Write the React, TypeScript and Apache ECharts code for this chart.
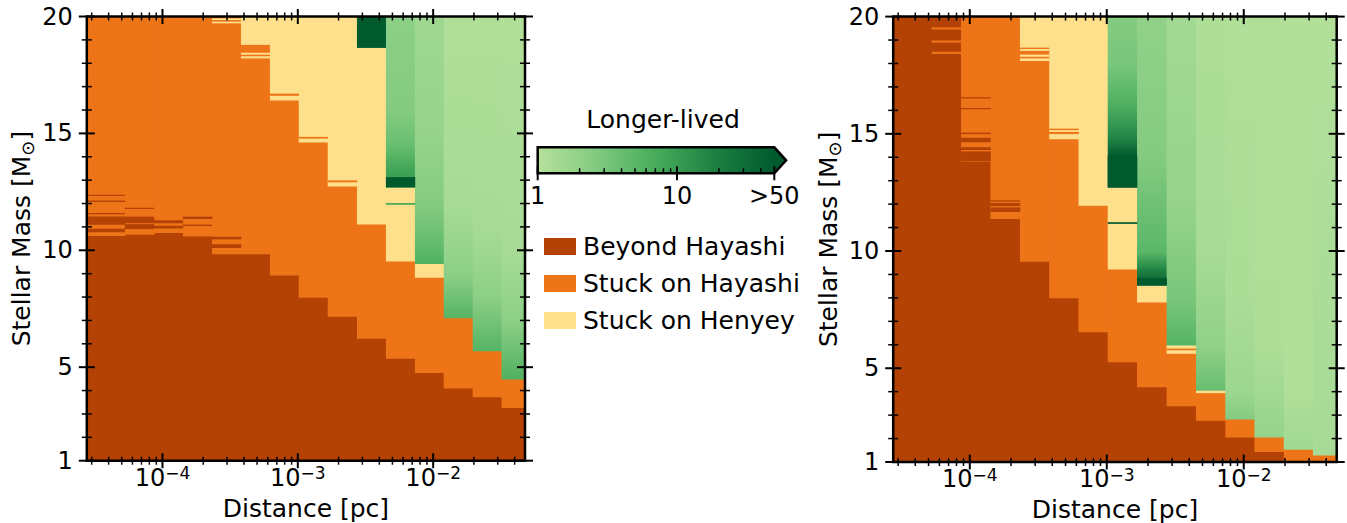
import React, { useEffect, useRef } from 'react';
import * as echarts from 'echarts';

const FONT = "'DejaVu Sans', sans-serif";

// ---------- axes ----------
const xMinPc = 2.76e-5;
const xMaxPc = 4.77e-2;
const massMin = 1;
const massMax = 20;
const xMajorTicksPc = [1e-4, 1e-3, 1e-2];
const xMinorTicksPc = [
  3e-5, 4e-5, 5e-5, 6e-5, 7e-5, 8e-5, 9e-5,
  2e-4, 3e-4, 4e-4, 5e-4, 6e-4, 7e-4, 8e-4, 9e-4,
  2e-3, 3e-3, 4e-3, 5e-3, 6e-3, 7e-3, 8e-3, 9e-3,
  2e-2, 3e-2, 4e-2,
];
const yMajorTicks = [1, 5, 10, 15, 20];
const yMinorTicks = [2, 3, 4, 6, 7, 8, 9, 11, 12, 13, 14, 16, 17, 18, 19];

// ---------- distance bins (pc) ----------
const distEdgesPc = [
  2.76e-5, 5.26e-5, 8.64e-5, 1.416e-4, 2.323e-4, 3.8e-4, 6.22e-4, 1.016e-3,
  1.663e-3, 2.735e-3, 4.477e-3, 7.33e-3, 1.197e-2, 1.959e-2, 3.199e-2, 4.77e-2,
];

// ---------- categories ----------
const categoryNames = ['Beyond Hayashi', 'Stuck on Hayashi', 'Stuck on Henyey'];
const categoryColors = ['#b34204', '#ee7418', '#fee08c'];

// ---------- colour bar (lifetime ratio) ----------
const cbMax = 50;
const cbTickValues = [1, 10, 50];
const cbTickLabels = ['1', '10', '>50'];
const cbMinorTicks = [2, 3, 4, 5, 6, 7, 8, 9, 20, 30, 40];
const cbColorStops: [number, string][] = [
  [0, '#b5e19c'], [0.2, '#8ccf86'], [0.4, '#5db96a'], [0.5, '#47ab5b'], [0.75, '#1d8042'], [1, '#005a2e'],
];

// ---------- left panel ----------
const leftBeyondTop = [10.65, 10.7, 10.77, 10.62, 9.86, 9.86, 8.96, 8.0, 7.19, 6.25, 5.4, 4.79, 4.12, 3.75, 3.29];
const leftHayashiTop = [20, 20, 20, 20, 20, 18.82, 16.44, 14.64, 12.76, 11.14, 9.55, 8.86, 7.13, 5.72, 4.51];
const leftHenyeyTop = [20, 20, 20, 20, 20, 20, 20, 20, 20, 18.69, 12.71, 9.45, 7.13, 5.72, 4.51];
// [mass, lifetime ratio] samples from top to bottom of each green column
const leftGreen: ([number, number][] | null)[] = [
  null, null, null, null, null, null, null, null, null,
  [[20, 50], [18.69, 50]],
  [[20, 2.2], [16, 2.5], [14.5, 4], [13.5, 8], [12.71, 12]],
  [[20, 1.5], [15, 1.8], [12, 2.5], [10.5, 4], [9.45, 6]],
  [[20, 1.1], [12, 1.3], [9, 2.2], [7.13, 5.5]],
  [[20, 1.1], [11, 1.3], [8, 2.2], [5.72, 5.5]],
  [[20, 1.08], [10, 1.3], [7, 2.2], [4.51, 6]],
];
// [bin, mass low, mass high, category (0-2, 3 = green), lifetime ratio]
const leftStripes = [
  [0, 12.33, 12.38, 0, 0], [0, 12.08, 12.13, 0, 0], [0, 11.55, 11.6, 0, 0], [0, 11.1, 11.45, 0, 0], [0, 10.78, 10.92, 0, 0],
  [1, 11.78, 11.82, 0, 0], [1, 11.17, 11.44, 0, 0], [1, 10.92, 11.12, 0, 0],
  [2, 11.17, 11.29, 0, 0], [2, 10.95, 11.05, 0, 0],
  [3, 11.35, 11.44, 0, 0], [3, 11.05, 11.1, 0, 0],
  [4, 10.48, 10.58, 0, 0], [4, 10.11, 10.26, 0, 0], [4, 19.86, 19.92, 2, 0], [4, 19.72, 19.78, 2, 0],
  [5, 18.38, 18.45, 2, 0], [5, 18.22, 18.3, 2, 0],
  [6, 16.62, 16.7, 1, 0],
  [7, 14.79, 14.85, 1, 0],
  [8, 12.92, 12.99, 1, 0],
  [10, 12.71, 13.13, 3, 50], [10, 11.96, 12.02, 3, 8],
];

// ---------- right panel ----------
const rightBeyondTop = [20, 20, 13.84, 11.4, 9.58, 8.02, 6.57, 5.29, 4.22, 3.41, 2.79, 2.08, 1.46, 1.04, 1.0];
const rightHayashiTop = [20, 20, 20, 20, 18.71, 14.8, 11.96, 9.25, 7.84, 5.65, 3.97, 2.85, 2.08, 1.56, 1.31];
const rightHenyeyTop = [20, 20, 20, 20, 20, 20, 20, 12.73, 8.55, 6.0, 4.07, 2.85, 2.08, 1.56, 1.31];
const rightGreen: ([number, number][] | null)[] = [
  null, null, null, null, null, null, null,
  [[20, 2.5], [18, 3], [16.3, 6], [14.8, 17], [14.06, 50], [12.73, 50]],
  [[20, 2.0], [14, 2.5], [10, 5], [9.2, 18], [8.55, 50]],
  [[20, 1.4], [12, 1.8], [8, 3], [6.0, 5.5]],
  [[20, 1.15], [10, 1.3], [6, 2], [4.07, 4]],
  [[20, 1.1], [8, 1.2], [4, 1.6], [2.85, 2.5]],
  [[20, 1.08], [6, 1.15], [2.08, 1.8]],
  [[20, 1.05], [4, 1.1], [1.56, 1.5]],
  [[20, 1.05], [1.31, 1.3]],
];
const rightStripes = [
  [1, 19.46, 19.54, 1, 0], [1, 18.9, 18.98, 1, 0], [1, 18.42, 18.5, 1, 0],
  [2, 16.52, 16.56, 0, 0], [2, 16.06, 16.1, 0, 0], [2, 15.0, 15.05, 0, 0], [2, 14.65, 14.83, 0, 0], [2, 14.32, 14.43, 0, 0], [2, 13.84, 14.25, 0, 0],
  [3, 12.12, 12.16, 0, 0], [3, 11.93, 12.05, 0, 0], [3, 11.68, 11.86, 0, 0],
  [4, 18.55, 18.62, 2, 0], [4, 18.3, 18.38, 2, 0], [4, 18.12, 18.22, 2, 0],
  [5, 15.17, 15.22, 1, 0], [5, 15.0, 15.08, 1, 0],
  [7, 12.73, 14.06, 3, 50], [7, 11.17, 11.23, 3, 50],
  [8, 8.55, 8.85, 3, 50],
  [9, 5.78, 5.84, 1, 0],
];

type Panel = {
  beyondTop: number[];
  hayashiTop: number[];
  henyeyTop: number[];
  green: ([number, number][] | null)[];
  stripes: number[][];
};
const panels: Panel[] = [
  { beyondTop: leftBeyondTop, hayashiTop: leftHayashiTop, henyeyTop: leftHenyeyTop, green: leftGreen, stripes: leftStripes },
  { beyondTop: rightBeyondTop, hayashiTop: rightHayashiTop, henyeyTop: rightHenyeyTop, green: rightGreen, stripes: rightStripes },
];

// ---------- helpers ----------
const lg = (v: number) => Math.log10(v);
const edgesLog = distEdgesPc.map(lg);
const lxMin = lg(xMinPc);
const lxMax = lg(xMaxPc);
const cbLogMax = lg(cbMax);

function hexToRgb(h: string) {
  const n = parseInt(h.slice(1), 16);
  return [(n >> 16) & 255, (n >> 8) & 255, n & 255];
}
function lifeColor(v: number) {
  const t = Math.min(1, Math.max(0, lg(v) / cbLogMax));
  for (let k = 0; k < cbColorStops.length - 1; k++) {
    const [t0, c0] = cbColorStops[k];
    const [t1, c1] = cbColorStops[k + 1];
    if (t <= t1) {
      const f = (t - t0) / (t1 - t0);
      const a = hexToRgb(c0);
      const b = hexToRgb(c1);
      const c = a.map((x, i) => Math.round(x + (b[i] - x) * f));
      return `rgb(${c[0]},${c[1]},${c[2]})`;
    }
  }
  return cbColorStops[cbColorStops.length - 1][1];
}

// rectangle between data corners; a small overlap (right / bottom) hides anti-aliasing seams
function rectShape(api: any, x0: number, x1: number, y0: number, y1: number, overlap = 0) {
  const a = api.coord([x0, y1]);
  const b = api.coord([x1, y0]);
  return { x: a[0], y: a[1], width: b[0] - a[0] + overlap, height: b[1] - a[1] + overlap };
}

function panelSeries(p: Panel, g: number) {
  const nBins = edgesLog.length - 1;
  const out: any[] = [];
  for (let cat = 0; cat < 3; cat++) {
    const rows: number[][] = [];
    for (let i = 0; i < nBins; i++) {
      const lo = cat === 0 ? massMin : cat === 1 ? p.beyondTop[i] : p.hayashiTop[i];
      const hi = cat === 0 ? p.beyondTop[i] : cat === 1 ? p.hayashiTop[i] : p.henyeyTop[i];
      if (hi > lo) rows.push([edgesLog[i], edgesLog[i + 1], lo, hi]);
    }
    const color = categoryColors[cat];
    out.push({
      type: 'custom',
      name: categoryNames[cat],
      xAxisIndex: g,
      yAxisIndex: g,
      z: 2,
      itemStyle: { color },
      silent: true,
      data: rows,
      renderItem: (params: any, api: any) => ({
        type: 'rect',
        shape: rectShape(api, api.value(0), api.value(1), api.value(2), api.value(3), 0.8),
        style: { fill: color },
      }),
    });
  }
  // green columns
  const gRows: number[][] = [];
  for (let i = 0; i < nBins; i++) {
    if (p.henyeyTop[i] < massMax && p.green[i]) gRows.push([edgesLog[i], edgesLog[i + 1], p.henyeyTop[i], massMax, i]);
  }
  out.push({
    type: 'custom',
    name: 'Longer-lived',
    xAxisIndex: g,
    yAxisIndex: g,
    z: 2,
    silent: true,
    data: gRows,
    renderItem: (params: any, api: any) => {
      const i = api.value(4);
      const prof = p.green[i] as [number, number][];
      const bot = api.value(2);
      const top = api.value(3);
      const stops = prof.map(([m, v]) => ({
        offset: Math.min(1, Math.max(0, (top - m) / (top - bot))),
        color: lifeColor(v),
      }));
      const grad = new echarts.graphic.LinearGradient(0, 0, 0, 1, stops);
      return {
        type: 'rect',
        shape: rectShape(api, api.value(0), api.value(1), bot, top, 0.8),
        style: { fill: grad },
      };
    },
  });
  // stripes
  out.push({
    type: 'custom',
    name: 'stripes',
    xAxisIndex: g,
    yAxisIndex: g,
    z: 3,
    silent: true,
    data: p.stripes.map((s) => [edgesLog[s[0]], edgesLog[s[0] + 1], s[1], s[2], s[3], s[4]]),
    renderItem: (params: any, api: any) => {
      const cat = api.value(4);
      const color = cat < 3 ? categoryColors[cat] : lifeColor(api.value(5));
      return {
        type: 'rect',
        shape: rectShape(api, api.value(0), api.value(1), api.value(2), api.value(3), 0.3),
        style: { fill: color },
      };
    },
  });
  // ticks on all four sides
  const tickRows: number[][] = [
    ...xMajorTicksPc.map((v) => [lg(v), 0, 1]),
    ...xMinorTicksPc.map((v) => [lg(v), 0, 0]),
    ...yMajorTicks.map((v) => [v, 1, 1]),
    ...yMinorTicks.map((v) => [v, 1, 0]),
  ];
  out.push({
    type: 'custom',
    name: 'ticks',
    xAxisIndex: g,
    yAxisIndex: g,
    z: 6,
    silent: true,
    clip: false,
    data: tickRows,
    renderItem: (params: any, api: any) => {
      const pos = api.value(0);
      const dir = api.value(1);
      const major = api.value(2) === 1;
      const lw = major ? 2 : 1.5;
      const st = { stroke: '#000', lineWidth: lw };
      if (dir === 0) {
        const half = major ? 7.5 : 4;
        const b = api.coord([pos, massMin]);
        const t = api.coord([pos, massMax]);
        return {
          type: 'group',
          children: [
            { type: 'line', shape: { x1: b[0], y1: b[1] - half, x2: b[0], y2: b[1] + half }, style: st },
            { type: 'line', shape: { x1: t[0], y1: t[1] - half, x2: t[0], y2: t[1] + half }, style: st },
          ],
        };
      }
      const half = major ? 8 : 5;
      const l = api.coord([lxMin, pos]);
      const r = api.coord([lxMax, pos]);
      return {
        type: 'group',
        children: [
          { type: 'line', shape: { x1: l[0] - half, y1: l[1], x2: l[0] + half, y2: l[1] }, style: st },
          { type: 'line', shape: { x1: r[0] - half, y1: r[1], x2: r[0] + half, y2: r[1] }, style: st },
        ],
      };
    },
  });
  return out;
}

const supRich = {
  b: { fontSize: 24, lineHeight: 26, fontFamily: FONT, color: '#000' },
  s: { fontSize: 17, lineHeight: 18, verticalAlign: 'top', fontFamily: FONT, color: '#000' },
};

function xAxisFor(g: number) {
  return {
    gridIndex: g,
    type: 'value',
    min: lxMin,
    max: lxMax,
    position: 'bottom',
    axisLine: { show: false },
    axisTick: { show: false },
    splitLine: { show: false },
    axisLabel: {
      customValues: xMajorTicksPc.map(lg),
      margin: 4,
      formatter: (v: number) => `{b|10}{s|\u2212${Math.round(-v)}}`,
      rich: supRich,
    },
    name: 'Distance [pc]',
    nameLocation: 'middle',
    nameGap: 35,
    nameMoveOverlap: false,
    nameTextStyle: { fontSize: 25, fontFamily: FONT, color: '#000' },
  };
}
function yAxisFor(g: number) {
  return {
    gridIndex: g,
    type: 'value',
    min: massMin,
    max: massMax,
    position: 'left',
    axisLine: { show: false },
    axisTick: { show: false },
    splitLine: { show: false },
    axisLabel: {
      customValues: yMajorTicks,
      margin: 14,
      fontSize: 24,
      fontFamily: FONT,
      color: '#000',
    },
    name: 'Stellar Mass [M{sub|\u2299}]',
    nameLocation: 'middle',
    nameRotate: 90,
    nameGap: 50,
    nameMoveOverlap: false,
    nameTextStyle: {
      fontSize: 25,
      fontFamily: FONT,
      color: '#000',
      lineHeight: 30,
      rich: {
        sub: { fontSize: 18, lineHeight: 19, verticalAlign: 'bottom', fontFamily: FONT, color: '#000' },
      },
    },
  };
}

function buildOption() {
  const gridStyle = {
    show: true,
    z: 5,
    borderColor: '#000',
    borderWidth: 2.5,
    backgroundColor: 'transparent',
    containLabel: false,
    outerBoundsMode: 'none',
  };
  const cbSeries = [
    {
      type: 'custom',
      name: 'colorbar',
      xAxisIndex: 2,
      yAxisIndex: 2,
      z: 2,
      silent: true,
      clip: false,
      data: [[0, cbLogMax]],
      renderItem: (params: any, api: any) => {
        const a = api.coord([api.value(0), 1]);
        const b = api.coord([api.value(1), 0]);
        const tipLen = (b[0] - a[0]) * 0.05;
        const mid = (a[1] + b[1]) / 2;
        const grad = new echarts.graphic.LinearGradient(
          0, 0, 1, 0,
          cbColorStops.map(([o, c]) => ({ offset: o, color: c })),
        );
        return {
          type: 'group',
          children: [
            { type: 'rect', shape: { x: a[0], y: a[1], width: b[0] - a[0], height: b[1] - a[1] }, style: { fill: grad } },
            {
              type: 'polygon',
              shape: { points: [[b[0] - 0.5, a[1]], [b[0] + tipLen, mid], [b[0] - 0.5, b[1]]] },
              style: { fill: lifeColor(cbMax) },
            },
            {
              type: 'polygon',
              shape: { points: [[a[0], a[1]], [b[0], a[1]], [b[0] + tipLen, mid], [b[0], b[1]], [a[0], b[1]]] },
              style: { fill: 'none', stroke: '#000', lineWidth: 2.5, lineJoin: 'miter' },
            },
          ],
        };
      },
    },
    {
      type: 'custom',
      name: 'cbticks',
      xAxisIndex: 2,
      yAxisIndex: 2,
      z: 4,
      silent: true,
      clip: false,
      data: [...cbTickValues.map((v) => [lg(v), 1]), ...cbMinorTicks.map((v) => [lg(v), 0])],
      renderItem: (params: any, api: any) => {
        const p = api.coord([api.value(0), 0]);
        const major = api.value(1) === 1;
        return {
          type: 'line',
          shape: { x1: p[0], y1: p[1] - (major ? 7 : 5), x2: p[0], y2: p[1] + (major ? 7 : 0) },
          style: { stroke: '#000', lineWidth: major ? 2 : 1.5 },
        };
      },
    },
  ];

  return {
    animation: false,
    backgroundColor: '#fff',
    textStyle: { fontFamily: FONT },
    grid: [
      { left: 86.8, top: 16.5, width: 438.2, height: 444.2, ...gridStyle },
      { left: 893.2, top: 16.6, width: 443.5, height: 445.4, ...gridStyle },
      { left: 537.7, top: 147.3, width: 236.6, height: 26, show: false, containLabel: false, outerBoundsMode: 'none' },
    ],
    xAxis: [
      xAxisFor(0),
      xAxisFor(1),
      {
        gridIndex: 2,
        type: 'value',
        min: 0,
        max: cbLogMax,
        axisLine: { show: false },
        axisTick: { show: false },
        splitLine: { show: false },
        axisLabel: {
          customValues: cbTickValues.map(lg),
          margin: 11,
          fontSize: 24,
          fontFamily: FONT,
          color: '#000',
          formatter: (v: number) => {
            let best = 0;
            cbTickValues.forEach((t, i) => {
              if (Math.abs(lg(t) - v) < Math.abs(lg(cbTickValues[best]) - v)) best = i;
            });
            return cbTickLabels[best];
          },
        },
      },
    ],
    yAxis: [
      yAxisFor(0),
      yAxisFor(1),
      { gridIndex: 2, type: 'value', min: 0, max: 1, show: false },
    ],
    legend: {
      data: categoryNames,
      orient: 'vertical',
      left: 539,
      top: 227.5,
      icon: 'rect',
      itemWidth: 32,
      itemHeight: 17,
      itemGap: 9,
      selectedMode: false,
      textStyle: { fontSize: 25, fontFamily: FONT, color: '#000', lineHeight: 28, padding: [0, 0, 0, 2] },
    },
    graphic: [
      {
        type: 'text',
        x: 663,
        y: 119,
        style: {
          text: 'Longer-lived',
          fontSize: 25,
          fontFamily: FONT,
          fill: '#000',
          align: 'center',
          verticalAlign: 'middle',
        },
      },
    ],
    series: [...panelSeries(panels[0], 0), ...panelSeries(panels[1], 1), ...cbSeries],
  };
}

export default function App() {
  const ref = useRef<HTMLDivElement>(null);
  useEffect(() => {
    if (!ref.current) return;
    const chart = echarts.init(ref.current, null, { renderer: 'svg' });
    chart.setOption(buildOption() as any);
    return () => chart.dispose();
  }, []);
  return (
    <div
      ref={ref}
      style={{ position: 'fixed', left: 0, top: 0, width: 1347, height: 523, background: '#fff' }}
    />
  );
}
